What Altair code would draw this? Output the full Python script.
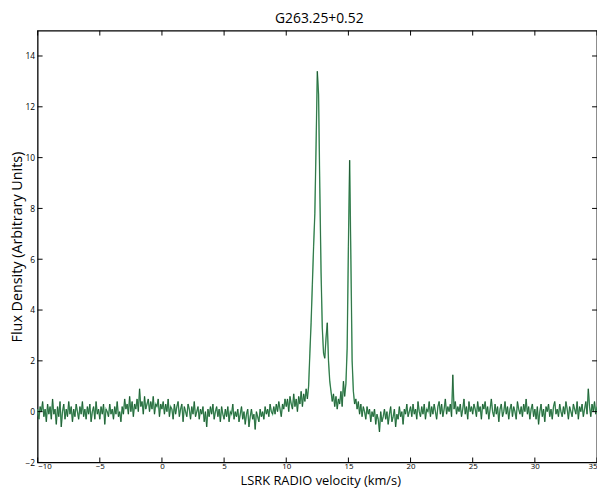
import altair as alt
import numpy as np
import pandas as pd

title_text = "G263.25+0.52"
x_title = "LSRK RADIO velocity (km/s)"
y_title = "Flux Density (Arbitrary Units)"

velocity_start = -10.0
velocity_step = 0.1

flux_neg = [
    0.1, -0.3, 0.2, 0.0, 0.4, -0.2, 0.1, -0.4, 0.3, -0.1,
    0.2, -0.3, 0.5, -0.1, 0.1, -0.5, 0.2, -0.2, 0.4, -0.6,
    0.0, 0.3, -0.3, 0.1, -0.2, 0.4, -0.1, 0.2, -0.4, 0.1,
    -0.2, 0.3, 0.0, -0.3, 0.2, -0.1, 0.4, -0.2, 0.1, -0.3,
    0.2, -0.1, 0.3, -0.4, 0.0, 0.2, -0.3, 0.4, -0.1, 0.1,
    -0.3, 0.2, -0.1, 0.3, -0.5, 0.1, 0.0, -0.2, 0.3, -0.1,
    0.1, -0.3, 0.2, -0.1, 0.4, -0.2, 0.0, -0.4, 0.2, -0.1,
    0.5, 0.1, 0.3, -0.1, 0.6, 0.0, 0.4, -0.2, 0.3, 0.1,
    0.5, 0.0, 0.9, 0.2, 0.4, -0.1, 0.6, 0.1, 0.3, 0.5,
    0.0, 0.4, 0.1, 0.6, -0.1, 0.3, 0.2, 0.5, -0.2, 0.3,
]
flux_low = [
    0.1, 0.4, -0.1, 0.3, 0.0, 0.5, -0.2, 0.2, 0.1, -0.3,
    0.3, -0.1, 0.2, 0.4, -0.2, 0.1, 0.3, -0.4, 0.2, 0.0,
    -0.2, 0.3, 0.1, -0.3, 0.2, -0.1, 0.4, -0.2, 0.0, 0.2,
    -0.3, 0.1, -0.1, 0.2, -0.4, 0.0, -0.6, 0.1, -0.2, 0.2,
    -0.1, 0.3, -0.3, 0.0, 0.2, -0.2, 0.1, -0.4, 0.2, -0.1,
    -0.3, 0.1, -0.2, 0.2, -0.4, 0.0, -0.1, 0.3, -0.3, 0.0,
    -0.2, 0.1, -0.4, -0.1, 0.2, -0.3, 0.0, -0.5, -0.1, 0.1,
    -0.6, -0.2, 0.1, -0.3, -0.1, -0.7, 0.0, -0.2, -0.4, 0.1,
    -0.2, 0.0, -0.3, 0.2, -0.1, 0.1, -0.2, 0.3, 0.0, -0.1,
    0.2, -0.1, 0.3, 0.0, 0.4, 0.1, -0.2, 0.3, 0.1, 0.5,
    0.2, 0.5, 0.0, 0.6, 0.3, 0.1, 0.7, 0.2, 0.5, 0.0,
]
flux_lines = [
    0.6, 0.3, 0.8, 0.2, 0.7, 0.4, 0.9, 0.5, 1.0, 2.3,
    3.5, 5.0, 6.5, 7.8, 10.5, 13.4, 12.5, 8.8, 5.5, 3.3,
    2.3, 2.1, 2.9, 3.5, 2.0, 1.2, 0.8, 0.4, 0.7, 0.2,
    0.6, 0.1, 0.5, 0.3, 0.8, 0.2, 1.2, 0.6, 1.1, 2.5,
    6.5, 9.9, 6.0, 2.0, 0.8, 0.3, 0.5, 0.1, 0.4, -0.1,
]
flux_high = [
    0.3, -0.2, 0.2, 0.0, -0.3, 0.2, -0.1, 0.1, -0.4, 0.0,
    -0.2, 0.1, -0.5, -0.1, -0.3, -0.8, 0.0, -0.4, -0.2, 0.1,
    -0.3, 0.0, -0.5, -0.1, 0.2, -0.4, -0.2, 0.1, -0.6, -0.1,
    -0.3, 0.2, -0.2, 0.0, -0.5, 0.1, -0.1, 0.3, -0.2, 0.0,
    0.2, -0.2, 0.3, -0.1, 0.1, -0.3, 0.4, 0.0, -0.2, 0.2,
    -0.1, 0.3, -0.3, 0.1, 0.0, 0.4, -0.2, 0.2, -0.1, 0.3,
    0.0, -0.3, 0.2, 0.4, -0.1, 0.3, -0.2, 0.1, 0.5, -0.1,
    0.2, 0.0, 0.3, -0.2, 1.45, 0.1, 0.4, -0.1, 0.2, 0.0,
    0.3, -0.2, 0.1, 0.5, -0.1, 0.2, -0.3, 0.4, 0.0, 0.2,
    -0.1, 0.3, 0.1, -0.2, 0.4, 0.0, 0.2, -0.3, 0.3, 0.1,
    0.4, -0.1, 0.2, -0.3, 0.1, 0.5, 0.0, -0.2, 0.3, -0.1,
    0.2, -0.4, 0.1, 0.3, -0.2, 0.0, 0.4, -0.1, 0.2, -0.3,
    0.1, 0.3, -0.2, 0.2, 0.0, -0.3, 0.4, 0.1, -0.1, 0.2,
    -0.2, 0.3, 0.0, 0.5, -0.1, 0.2, -0.3, 0.1, 0.3, -0.2,
    0.1, -0.3, 0.2, -0.5, 0.0, 0.3, -0.2, 0.1, -0.4, 0.2,
    0.0, 0.3, -0.2, 0.1, -0.3, 0.2, 0.4, -0.1, 0.1, -0.2,
    0.3, 0.0, -0.2, 0.2, -0.1, 0.4, 0.1, -0.3, 0.2, 0.0,
    -0.2, 0.3, 0.1, -0.1, 0.4, -0.3, 0.2, 0.0, 0.3, -0.2,
    0.1, 0.4, -0.1, 0.9, 0.2, -0.2, 0.3, 0.0, 0.4, -0.1,
    0.2,
]

x_ticks = [-10, -5, 0, 5, 10, 15, 20, 25, 30, 35]
y_ticks = [-2, 0, 2, 4, 6, 8, 10, 12, 14]

flux = flux_neg + flux_low + flux_lines + flux_high
velocity = np.round(velocity_start + velocity_step * np.arange(len(flux)), 2)
df = pd.DataFrame({"velocity": velocity, "flux": flux})

W, H = 566, 437
FONT = "Open Sans"
xs = alt.Scale(domain=[-10, 35], nice=False, zero=False)
ys = alt.Scale(domain=[-2, 15], nice=False, zero=False)

x_axis = alt.Axis(title=x_title, values=x_ticks, format="d", labelFontSize=8,
                  labelPadding=0, titleFontSize=13, titleX=W / 2 + 3,
                  titleY=22.5, titleBaseline="alphabetic",
                  titleFont=FONT, titleFontWeight="normal", titleColor="black",
                  labelColor="black", labelFont=FONT)
y_axis = alt.Axis(title=y_title, values=y_ticks, format="d", labelFontSize=8.5,
                  labelPadding=3, titleFontSize=14.5, titleX=-20, titleY=H / 2,
                  titleBaseline="middle", titleAngle=-90,
                  titleFont=FONT, titleFontWeight="normal", titleColor="black",
                  labelColor="black", labelFont=FONT)

base = alt.Chart(df)
light = base.mark_line(color="#62bd84", strokeWidth=1.4).encode(
    x=alt.X("velocity:Q", scale=xs, axis=x_axis),
    y=alt.Y("flux:Q", scale=ys, axis=y_axis),
)
dark = base.mark_line(color="#0b3416", strokeWidth=0.8, opacity=0.7).encode(
    x=alt.X("velocity:Q", scale=xs),
    y=alt.Y("flux:Q", scale=ys),
)

xt_df = pd.DataFrame({"t": x_ticks})
yt_df = pd.DataFrame({"t": y_ticks})
xt_bottom = alt.Chart(xt_df).mark_rule(color="black", strokeWidth=1).encode(
    x=alt.X("t:Q", scale=xs), y=alt.value(H), y2=alt.value(H - 5))
xt_top = alt.Chart(xt_df).mark_rule(color="black", strokeWidth=1).encode(
    x=alt.X("t:Q", scale=xs), y=alt.value(0), y2=alt.value(5))
yt_left = alt.Chart(yt_df).mark_rule(color="black", strokeWidth=1).encode(
    y=alt.Y("t:Q", scale=ys), x=alt.value(0), x2=alt.value(5))
yt_right = alt.Chart(yt_df).mark_rule(color="black", strokeWidth=1).encode(
    y=alt.Y("t:Q", scale=ys), x=alt.value(W), x2=alt.value(W - 5))

chart = alt.layer(light, dark, xt_bottom, xt_top, yt_left, yt_right).properties(
    width=W,
    height=H,
    background="white",
    title=alt.TitleParams(title_text, fontSize=14, font=FONT, fontWeight="normal",
                          color="black", offset=4, anchor="middle", dx=2),
    autosize=alt.AutoSizeParams(type="none"),
    padding={"left": 30, "top": 20, "right": 0, "bottom": 25},
).configure_view(
    stroke="black", strokeWidth=1.3
).configure_axis(
    domain=False, ticks=False, grid=False
)

chart.save("out.html", embed_options={"renderer": "svg", "actions": False})
